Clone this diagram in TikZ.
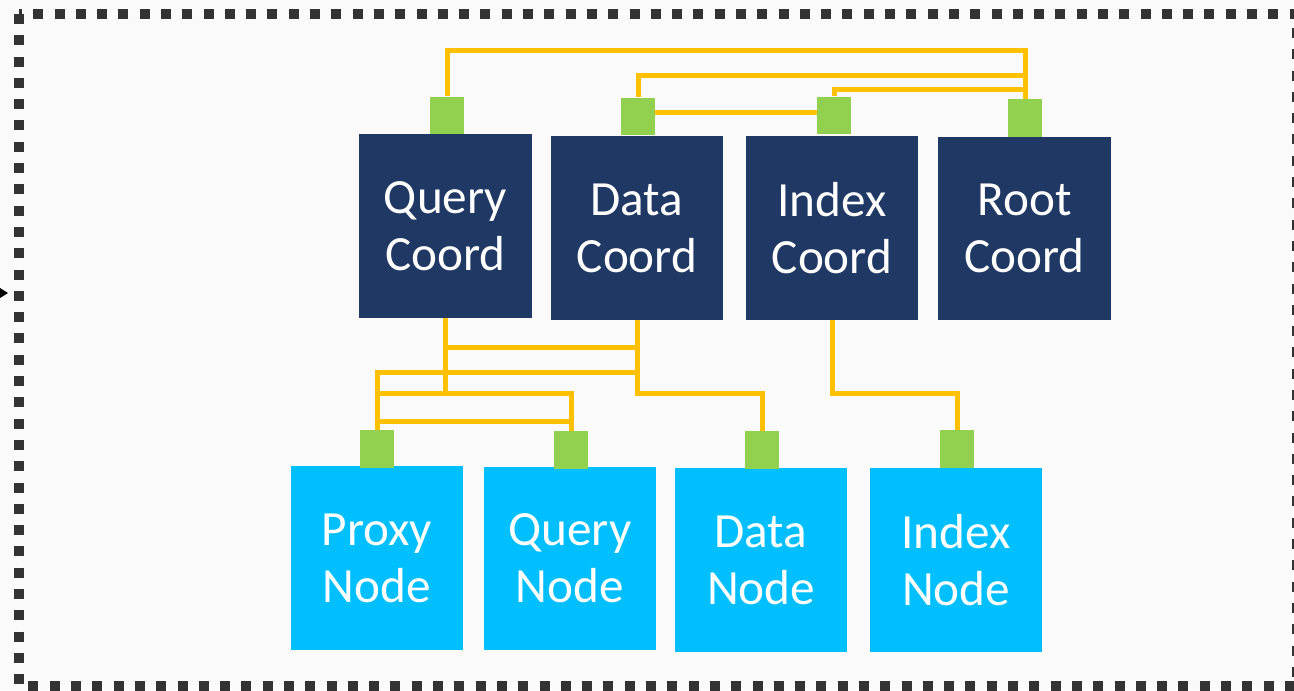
\documentclass[tikz,border=0pt]{standalone}
\usepackage{fontspec}
\newfontfamily\boxfont{Carlito}
\definecolor{coordnavy}{RGB}{32, 56, 100}
\definecolor{nodesky}{RGB}{0, 191, 255}
\definecolor{portgreen}{RGB}{146, 208, 80}
\definecolor{linkyellow}{RGB}{255, 192, 0}
\definecolor{framegray}{RGB}{51, 51, 51}
\definecolor{paper}{RGB}{250, 250, 250}
\usetikzlibrary{positioning, calc}
\tikzset{
  coordbox/.style={rectangle, fill=#1, text=white, minimum width=3.46cm, minimum height=3.68cm, inner sep=0pt, align=center, font=\boxfont\fontsize{28}{32.4}\selectfont},
  portbox/.style={rectangle, fill=portgreen, minimum width=0.68cm, minimum height=0.76cm, inner sep=0pt},
  link/.style={draw=linkyellow, line width=0.1cm},
}

\begin{document}
\begin{tikzpicture}[x=0.02cm, y=-0.02cm]
\useasboundingbox (0,0) rectangle (1294,690);
\fill[paper] (0,0) rectangle (1294,690);
% dashed frame
\draw[framegray, line width=0.2cm, dash pattern=on 0.2cm off 0.226cm] (19,14) rectangle (1297,686);
\fill[black] (0,288) -- (8,293) -- (0,298) -- cycle;

% coordinators
\node[coordbox=coordnavy] (qc) at (445.5,226) {Query\\Coord};
\node[coordbox=coordnavy] (dc) at (637,228) {Data\\Coord};
\node[coordbox=coordnavy] (ic) at (832,228) {Index\\Coord};
\node[coordbox=coordnavy] (rc) at (1024.5,228.5) {Root\\Coord};

% worker nodes
\node[coordbox=nodesky] (pn) at (377,558) {Proxy\\Node};
\node[coordbox=nodesky] (qn) at (570,558.5) {Query\\Node};
\node[coordbox=nodesky] (dn) at (761,560) {Data\\Node};
\node[coordbox=nodesky] (in) at (956,560) {Index\\Node};

% ports
\node[portbox] (qcp) at (447,115.5) {};
\node[portbox] (dcp) at (638,116.5) {};
\node[portbox] (icp) at (834,115.5) {};
\node[portbox] (rcp) at (1025,118) {};
\node[portbox] (pnp) at (377,449) {};
\node[portbox] (qnp) at (571,450) {};
\node[portbox] (dnp) at (762,450) {};
\node[portbox] (inp) at (957,449) {};

% wiring levels
\coordinate (t1) at (0,50);
\coordinate (t2) at (0,75);
\coordinate (t3) at (0,89);
\coordinate (t4) at (0,112);
\coordinate (b1) at (0,347);
\coordinate (b2) at (0,372);
\coordinate (b3) at (0,393);
\coordinate (b4) at (0,421);

% top wiring
\draw[link] (qcp.north) |- (rcp.north |- t1) -- (rcp.north);
\draw[link] (dcp.north) |- (rcp.north |- t2);
\draw[link] (icp.north) |- (rcp.north |- t3);
\draw[link] (dcp.east |- t4) -- (icp.west |- t4);

% bottom wiring
\draw[link] (qc.south) -- (qc.south |- b3);
\draw[link] (dc.south) |- (dnp.north |- b3) -- (dnp.north);
\draw[link] (qc.south |- b1) -- (dc.south |- b1);
\draw[link] (pnp.north) |- (dc.south |- b2);
\draw[link] (pnp.north |- b3) -| (qnp.north);
\draw[link] (pnp.north |- b4) -- (qnp.north |- b4);
\draw[link] (ic.south) |- (inp.north |- b3) -- (inp.north);
\end{tikzpicture}
\end{document}
